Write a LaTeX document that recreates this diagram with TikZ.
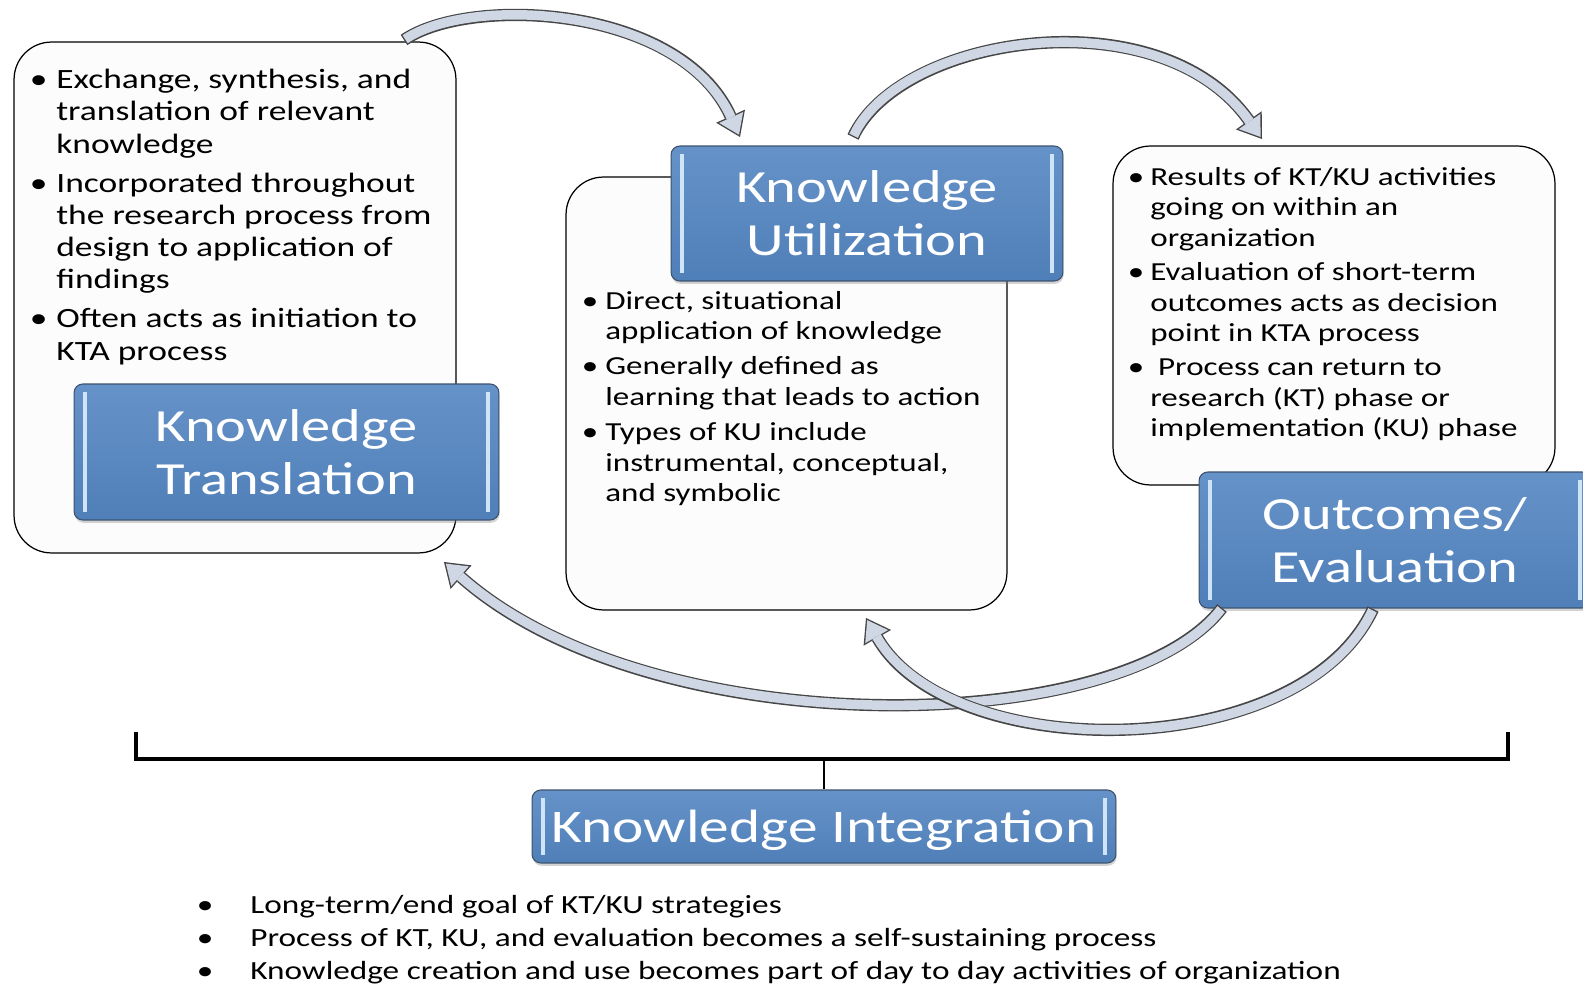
\documentclass[tikz,border=0pt]{standalone}
\usepackage{fontspec}
\setmainfont{Carlito}
\newfontfamily\widefont[FakeStretch=1.27]{Carlito}
\usetikzlibrary{arrows.meta,shadows}

\definecolor{stageblue}{RGB}{84,134,194}
\definecolor{stageedge}{RGB}{60,82,110}
\definecolor{stagebar}{RGB}{208,228,247}
\definecolor{notefill}{RGB}{252,252,252}
\definecolor{flowfill}{RGB}{207,214,228}
\definecolor{flowline}{RGB}{70,70,70}

% hanging bullet in front of a line
\newcommand{\dotitem}[1][2pt]{\leavevmode\llap{\textbullet\hspace{#1}}}

\begin{document}
\begin{tikzpicture}[x=0.02cm,y=-0.02cm]
    \tikzstyle{note}=[rectangle,draw=black,line width=0.7pt,fill=notefill,rounded corners=0.75cm,inner sep=0pt]
    \tikzstyle{stage}=[rectangle,draw=stageedge,line width=0.6pt,rounded corners=5pt,
        top color=stageblue!90!white,bottom color=stageblue!95!black,
        text=white,align=center,inner sep=0pt,
        font=\widefont\fontsize{26.2}{30.3}\selectfont,
        drop shadow={shadow xshift=0.4pt,shadow yshift=-1.6pt,opacity=0.35},
        path picture={\draw[stagebar,line width=2.3pt]
            ([xshift=6pt,yshift=-4.5pt]path picture bounding box.north west) -- ([xshift=6pt,yshift=4.5pt]path picture bounding box.south west)
            ([xshift=-6pt,yshift=-4.5pt]path picture bounding box.north east) -- ([xshift=-6pt,yshift=4.5pt]path picture bounding box.south east);}]
    \tikzstyle{items}=[anchor=north west,align=left,inner sep=0pt,text=black]
    \tikzstyle{flow}=[draw=flowfill,line width=5.4pt,shorten <=0.8pt,shorten >=1.4pt,
        -{Triangle[length=10.8pt,width=15pt,line width=0pt]},
        preaction={draw=flowline,line width=7pt,shorten <=0pt,shorten >=0pt,
        -{Triangle[length=13pt,width=18pt,line width=0pt]}}]

    \useasboundingbox (0,0) rectangle (1583,986);

    % text boxes
    \node [note,minimum width=8.84cm,minimum height=10.22cm] (ktnote) at (235,297.5) {};
    \node [note,minimum width=8.82cm,minimum height=8.66cm] (kunote) at (786.5,393.5) {};
    \node [note,minimum width=8.84cm,minimum height=6.78cm] (oenote) at (1334,315.5) {};

    \node [items,font=\widefont\fontsize{15.9}{18.3}\selectfont] (ktlist) at (56,69)
        {\dotitem[5pt]Exchange, synthesis, and\\ translation of relevant\\ knowledge\\[4pt]
         \dotitem[5pt]Incorporated throughout\\ the research process from\\ design to application of\\ findings\\[4pt]
         \dotitem[5pt]Often acts as initiation to\\ KTA process};
    \node [items,font=\widefont\fontsize{14.8}{17.4}\selectfont] (kulist) at (605,291)
        {\dotitem[4pt]Direct, situational\\ application of knowledge\\[2.5pt]
         \dotitem[4pt]Generally defined as\\ learning that leads to action\\[2.5pt]
         \dotitem[4pt]Types of KU include\\ instrumental, conceptual,\\ and symbolic};
    \node [items,font=\widefont\fontsize{14.8}{17.4}\selectfont] (oelist) at (1150,167)
        {\dotitem[3.5pt]Results of KT/KU activities\\ going on within an\\ organization\\[2pt]
         \dotitem[3.5pt]Evaluation of short-term\\ outcomes acts as decision\\ point in KTA process\\[2pt]
         \dotitem[3.5pt]\hspace{0.3em}Process can return to\\ research (KT) phase or\\ implementation (KU) phase};

    % stages
    \node [stage,minimum width=8.5cm,minimum height=2.72cm] (ktbox) at (286.5,452) {Knowledge\\Translation};
    \node [stage,minimum width=7.84cm,minimum height=2.7cm] (kubox) at (867,213.5) {Knowledge\\Utilization};
    \node [stage,minimum width=7.84cm,minimum height=2.72cm] (oebox) at (1395,540) {Outcomes/\\Evaluation};
    \node [stage,minimum width=11.68cm,minimum height=1.46cm,text depth=0pt,
        font=\widefont\fontsize{26.6}{30.3}\selectfont] (kibox) at (824,826.5) {Knowledge Integration};

    % arrow ends
    \coordinate (kt-out) at (404,40);
    \coordinate (ku-in) at (740,137);
    \coordinate (ku-out) at (853,137);
    \coordinate (oe-in) at (1262,139);
    \coordinate (oe-back) at (1222,608);
    \coordinate (kt-in) at (444,562);
    \coordinate (oe-loop) at (1373,609);
    \coordinate (ku-back) at (866,618);

    \draw [flow] (kt-out) .. controls (470,-5) and (680,5) .. (ku-in);
    \draw [flow] (ku-out) .. controls (900,35) and (1160,-5) .. (oe-in);
    \draw [flow] (oe-back) .. controls (1120,740) and (650,745) .. (kt-in);
    \draw [flow] (oe-loop) .. controls (1300,765) and (950,765) .. (ku-back);

    % bracket over integration
    \coordinate (brl) at (136,732);
    \coordinate (brr) at (1508,732);
    \draw [line width=1.8pt] (brl) |- (brr |- 0,759) -- (brr);
    \draw [line width=1.2pt] (kibox.north) -- (kibox.north |- 0,759);

    \node [items,font=\widefont\fontsize{14.9}{18.9}\selectfont] (kilist) at (250,895)
        {\dotitem[21pt]Long-term/end goal of KT/KU strategies\\
         \dotitem[21pt]Process of KT, KU, and evaluation becomes a self-sustaining process\\
         \dotitem[21pt]Knowledge creation and use becomes part of day to day activities of organization};
\end{tikzpicture}
\end{document}
